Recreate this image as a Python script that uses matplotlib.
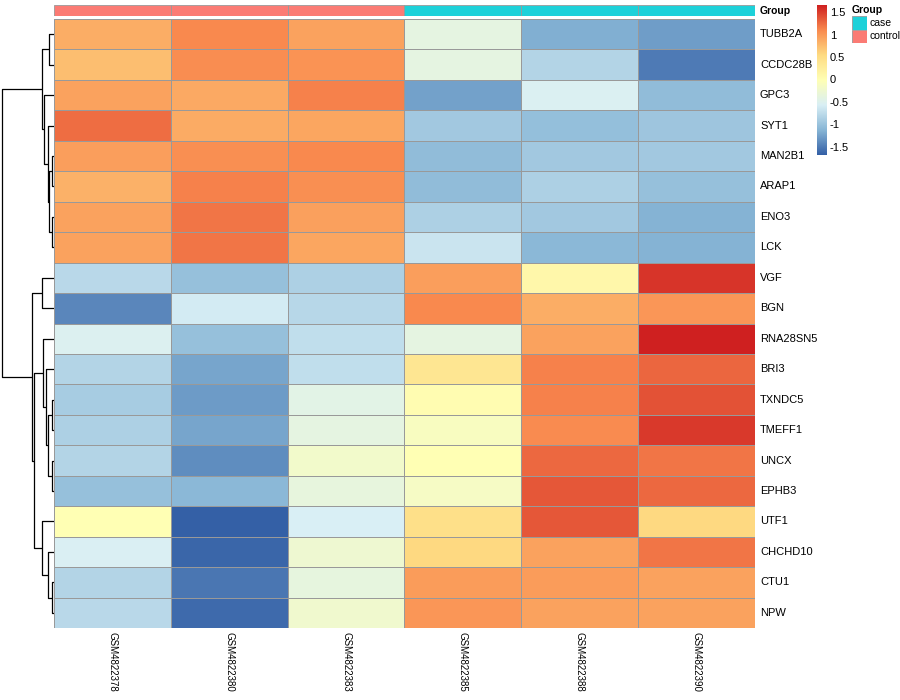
import numpy as np
import matplotlib
matplotlib.use('Agg')
import matplotlib.pyplot as plt
from matplotlib.colors import LinearSegmentedColormap, Normalize

plt.rcParams['font.family'] = ['Liberation Sans', 'DejaVu Sans']

# samples and groups
samples = ['GSM4822378', 'GSM4822380', 'GSM4822383', 'GSM4822385', 'GSM4822388', 'GSM4822390']
groups = ['control', 'control', 'control', 'case', 'case', 'case']
group_colors = {'case': '#1DD1D9', 'control': '#FB7B74'}

genes = ['TUBB2A', 'CCDC28B', 'GPC3', 'SYT1', 'MAN2B1', 'ARAP1', 'ENO3', 'LCK',
         'VGF', 'BGN', 'RNA28SN5', 'BRI3', 'TXNDC5', 'TMEFF1', 'UNCX', 'EPHB3',
         'UTF1', 'CHCHD10', 'CTU1', 'NPW']

# row-scaled expression
values = np.array([
    [0.88, 1.12, 0.95, -0.37, -1.14, -1.26],
    [0.76, 1.10, 1.06, -0.37, -0.80, -1.49],
    [0.95, 0.90, 1.17, -1.24, -0.52, -1.04],
    [1.27, 0.89, 0.93, -0.92, -1.02, -0.95],
    [0.98, 1.09, 1.12, -1.04, -0.92, -0.92],
    [0.85, 1.17, 1.09, -1.04, -0.85, -1.00],
    [0.95, 1.23, 0.97, -0.85, -0.92, -1.12],
    [0.95, 1.23, 0.93, -0.65, -1.08, -1.12],
    [-0.76, -1.00, -0.85, 0.98, 0.13, 1.57],
    [-1.41, -0.58, -0.78, 1.13, 0.88, 1.03],
    [-0.50, -1.00, -0.71, -0.37, 0.95, 1.68],
    [-0.80, -1.21, -0.71, 0.40, 1.16, 1.31],
    [-0.88, -1.27, -0.41, 0.06, 1.16, 1.41],
    [-0.85, -1.21, -0.37, -0.09, 1.11, 1.54],
    [-0.80, -1.36, -0.18, 0.01, 1.29, 1.23],
    [-1.00, -1.08, -0.33, -0.13, 1.39, 1.29],
    [0.01, -1.66, -0.55, 0.49, 1.39, 0.58],
    [-0.53, -1.62, -0.23, 0.58, 0.95, 1.23],
    [-0.80, -1.51, -0.35, 1.00, 0.99, 0.95],
    [-0.76, -1.59, -0.21, 1.03, 0.95, 0.95],
])

# row dendrogram, scipy-style: (left, right, height); leaves 0..19 in display order
linkage = [
    (0, 1, 5.0), (4, 5, 2.3), (6, 7, 2.5), (21, 22, 5.0), (3, 23, 6.0),
    (2, 24, 9.7), (20, 25, 12.3), (8, 9, 12.3), (12, 13, 2.5), (14, 15, 1.7),
    (28, 29, 5.7), (11, 30, 8.3), (10, 31, 10.7), (18, 19, 1.7), (17, 33, 5.7),
    (16, 34, 12.3), (32, 35, 20.0), (27, 36, 22.3), (26, 37, 52.3),
]

cbar_ticks = [-1.5, -1, -0.5, 0, 0.5, 1, 1.5]
palette = ['#3460A6', '#88B6D6', '#D9EFF5', '#FFFFB5', '#FEDB82', '#F98A4F', '#CF2020']

W, H = 900, 700
def rect(x0, y0, x1, y1):
    return [x0 / W, 1 - y1 / H, (x1 - x0) / W, (y1 - y0) / H]

fig = plt.figure(figsize=(9, 7), dpi=100)

cmap = LinearSegmentedColormap.from_list('rdylbu', palette)
vmin, vmax = values.min(), values.max()
norm = Normalize(vmin, vmax)

nr, nc = values.shape
# heatmap
ax = fig.add_axes(rect(54, 19, 755, 628))
ax.pcolormesh(np.arange(nc + 1), np.arange(nr + 1), values, cmap=cmap, norm=norm,
              edgecolors='#999999', linewidth=0.6)
ax.set_xlim(0, nc)
ax.set_ylim(nr, 0)
ax.axis('off')

# annotation bar
axa = fig.add_axes(rect(54, 5, 755, 16))
for j, g in enumerate(groups):
    axa.add_patch(plt.Rectangle((j, 0), 1, 1, facecolor=group_colors[g],
                                edgecolor='#999999', linewidth=0.6))
axa.set_xlim(0, nc)
axa.set_ylim(0, 1)
axa.axis('off')

# dendrogram
axd = fig.add_axes(rect(0, 19, 54, 628))
pos = {i: i + 0.5 for i in range(nr)}
hgt = {i: 0.0 for i in range(nr)}
for k, (a, b, h) in enumerate(linkage):
    nid = nr + k
    axd.plot([hgt[a], h, h, hgt[b]], [pos[a], pos[a], pos[b], pos[b]],
             color='black', lw=0.9, solid_capstyle='butt')
    pos[nid] = (pos[a] + pos[b]) / 2
    hgt[nid] = h
axd.set_xlim(54.5, 0)
axd.set_ylim(nr, 0)
axd.axis('off')

# labels
for i, g in enumerate(genes):
    fig.text(760 / W, 1 - (19 + (i + 0.5) * 609 / nr) / H, g, fontsize=8,
             va='center', ha='left')
fig.text(760 / W, 1 - 10.5 / H, 'Group', fontsize=7.5, fontweight='bold',
         va='center', ha='left')
for j, s in enumerate(samples):
    fig.text((54 + (j + 0.5) * 701 / nc) / W, 1 - 632 / H, s, fontsize=7,
             rotation=-90, va='top', ha='center')

# colour bar
axc = fig.add_axes(rect(817, 5, 827, 155))
grad = np.linspace(vmax, vmin, 256).reshape(-1, 1)
axc.imshow(grad, cmap=cmap, norm=norm, aspect='auto', extent=[0, 1, vmin, vmax])
axc.set_ylim(vmin, vmax)
axc.axis('off')
for t in cbar_ticks:
    y = 155 - (t - vmin) / (vmax - vmin) * 150
    fig.text(830 / W, 1 - y / H, ('%g' % t), fontsize=8, va='center', ha='left')

# group legend
fig.text(852 / W, 1 - 10 / H, 'Group', fontsize=7.5, fontweight='bold', va='center', ha='left')
for i, g in enumerate(['case', 'control']):
    y0 = 16 + i * 13.5
    axl = fig.add_axes(rect(852, y0, 867, y0 + 13.5))
    axl.add_patch(plt.Rectangle((0, 0), 1, 1, facecolor=group_colors[g],
                                edgecolor='#999999', linewidth=0.6))
    axl.set_xlim(0, 1)
    axl.set_ylim(0, 1)
    axl.axis('off')
    fig.text(869 / W, 1 - (y0 + 6.75) / H, g, fontsize=7.5, va='center', ha='left')

fig.savefig('out.png', dpi=100)
